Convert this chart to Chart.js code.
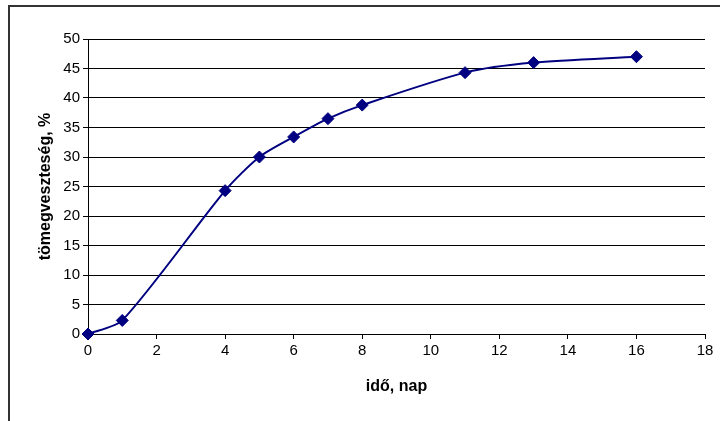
<!DOCTYPE html>
<html lang="hu">
<head>
    <meta charset="UTF-8">
    <title>Tömegveszteség</title>
    <script src="https://cdn.jsdelivr.net/npm/chart.js"></script>
    <style>
        body {
            margin: 0;
            overflow: hidden;
            background: #fff;
        }
        .frame {
            position: absolute;
            left: 8px;
            top: 5px;
            width: 800px;
            height: 500px;
            border: 2px solid #333;
        }
        .wrap {
            position: absolute;
            left: 0;
            top: 0;
            width: 720px;
            height: 421px;
        }
    </style>
</head>
<body>
    <div class="frame"></div>
    <div class="wrap">
        <canvas id="chart" width="720" height="421"></canvas>
    </div>

    <script>
        // mérési adatok
        const napok = [0, 1, 4, 5, 6, 7, 8, 11, 13, 16];
        const veszteseg = [0, 2.3, 24.3, 30, 33.4, 36.5, 38.8, 44.3, 46, 47];

        const pontok = napok.map((x, i) => ({ x: x, y: veszteseg[i] }));

        const tickFont = { family: 'Liberation Sans, Arial, sans-serif', size: 15 };
        const titleFont = { family: 'Liberation Sans, Arial, sans-serif', size: 16, weight: 'bold' };

        new Chart(document.getElementById('chart'), {
            type: 'scatter',
            data: {
                datasets: [{
                    data: pontok,
                    showLine: true,
                    borderColor: '#000080',
                    backgroundColor: '#000080',
                    borderWidth: 2,
                    tension: 0.25,
                    pointStyle: 'rectRot',
                    pointRadius: 6,
                    pointBorderWidth: 1,
                    clip: false
                }]
            },
            options: {
                responsive: false,
                animation: false,
                layout: {
                    padding: { left: 32, top: 39, right: 15, bottom: 21 }
                },
                plugins: {
                    legend: { display: false },
                    tooltip: { enabled: false }
                },
                scales: {
                    x: {
                        type: 'linear',
                        min: 0,
                        max: 18,
                        ticks: { stepSize: 2, color: '#000', font: tickFont, padding: 3, maxRotation: 0 },
                        grid: { drawOnChartArea: false, drawTicks: true, tickLength: 5, color: '#000' },
                        border: { display: true, color: '#000', width: 1 },
                        title: { display: true, text: 'idő, nap', color: '#000', font: titleFont },
                        afterFit: s => { s.height = 66; }
                    },
                    y: {
                        min: 0,
                        max: 50,
                        ticks: { stepSize: 5, color: '#000', font: tickFont, padding: 3 },
                        grid: { color: '#000', tickLength: 5, lineWidth: 1 },
                        border: { display: true, color: '#000', width: 1 },
                        title: { display: true, text: 'tömegveszteség, %', color: '#000', font: titleFont },
                        afterFit: s => { s.width = 56; }
                    }
                }
            }
        });
    </script>
</body>
</html>
